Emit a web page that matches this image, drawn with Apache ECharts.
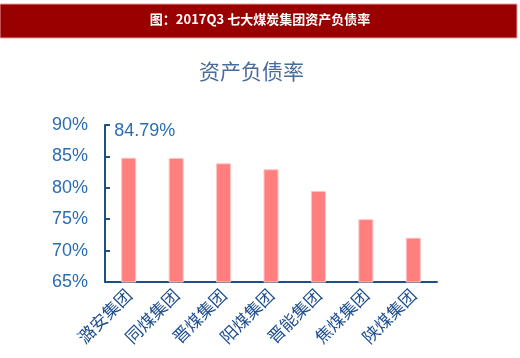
<!DOCTYPE html>
<html><head><meta charset="utf-8">
<script src="https://cdn.jsdelivr.net/npm/echarts@6/dist/echarts.min.js"></script>
<style>html,body{margin:0;padding:0;background:#fff}#c{width:520px;height:358px}</style>
</head><body><div id="c"></div>
<script>
const headerTitle = '图：2017Q3 七大煤炭集团资产负债率';
const chartTitle = '资产负债率';
const categories = ['潞安集团','同煤集团','晋煤集团','阳煤集团','晋能集团','焦煤集团','陕煤集团'];
const debtRatio = [84.79, 84.75, 83.9, 82.95, 79.5, 75.0, 72.05];
const yTicks = [65, 70, 75, 80, 85, 90];

const chart = echarts.init(document.getElementById('c'));
chart.setOption({
  animation: false,
  graphic: [
    {type:'rect', shape:{x:0,y:4,width:517,height:34}, style:{fill:'#990000', stroke:'#e8a0a0', lineWidth:1}},
    {type:'text', left:'center', top:13, style:{text:headerTitle, fill:'#fff', font:'bold 13px "Noto Sans CJK SC", sans-serif'}}
  ],
  title: {text: chartTitle, left: 194, top: 56, textStyle:{fontSize:21, fontWeight:'normal', color:'#4a6a9c', fontFamily:'"Noto Sans CJK SC", sans-serif'}},
  grid: {left:105, right:83, top:125, bottom:76},
  xAxis: {
    type:'category', data: categories,
    axisLine:{lineStyle:{color:'#1f4e8c', width:2}},
    axisTick:{show:false},
    axisLabel:{rotate:45, fontSize:17, color:'#1f4e8c', margin:10, fontFamily:'"Noto Sans CJK SC", sans-serif'}
  },
  yAxis: {
    type:'value', min: yTicks[0], max: yTicks[yTicks.length-1], interval: 5,
    splitLine:{show:false},
    axisLine:{show:true, lineStyle:{color:'#1f4e8c', width:2}},
    axisTick:{show:true, inside:true, length:5, lineStyle:{color:'#1f4e8c', width:2}},
    axisLabel:{formatter:'{value}%', fontSize:18, color:'#2a6db0', margin:17, fontFamily:'Arial, "Liberation Sans", sans-serif'}
  },
  series: [{
    type:'bar', barWidth:15,
    itemStyle:{color:'#ff7f7f', borderColor:'#ffc4c4', borderWidth:1},
    data: debtRatio.map((v,i)=> i===0 ? {value:v, label:{show:true, position:'top', formatter: v.toFixed(2)+'%', offset:[16,-13], fontSize:18, color:'#2a6db0', fontFamily:'Arial, "Liberation Sans", sans-serif'}} : v)
  }]
});
</script></body></html>
